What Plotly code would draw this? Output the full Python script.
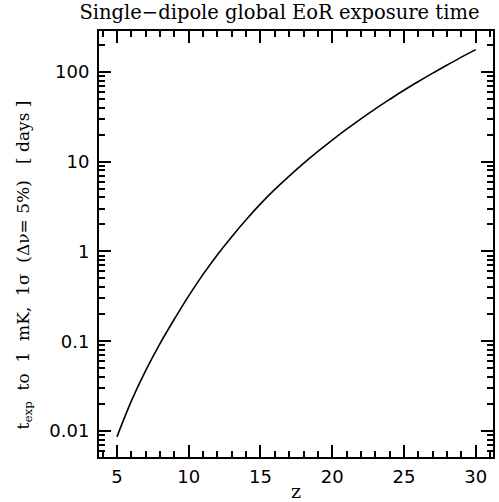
import plotly.graph_objects as go

# redshift samples and exposure time (days)
z_vals = [5, 6, 7, 8, 9, 10, 11, 12, 13, 14, 15, 16, 17, 18, 19, 20,
          21, 22, 23, 24, 25, 26, 27, 28, 29, 30]
t_exp_days = [0.0086, 0.0215, 0.047, 0.094, 0.176, 0.32, 0.555, 0.92, 1.46, 2.25,
              3.38, 4.9, 6.9, 9.55, 13.0, 17.4, 23.0, 30.0, 38.7, 49.3,
              62.4, 78.0, 96.8, 119.0, 146.0, 177.0]

x_ticks = [5, 10, 15, 20, 25, 30]
y_ticks = [0.01, 0.1, 1, 10, 100]

title_text = "Single\u2212dipole global EoR exposure time"
x_title = "z"
y_title = "t<sub>exp</sub>  to  1  mK,  1\u03c3  (\u0394\u03bd= 5%)   [ days ]"

fig = go.Figure()
fig.add_trace(go.Scatter(x=z_vals, y=t_exp_days, mode="lines",
                         line=dict(color="black", width=1.6, shape="spline"),
                         showlegend=False, hoverinfo="skip"))

tickfont = dict(family="DejaVu Sans, sans-serif", size=18, color="black")

fig.update_layout(
    width=499, height=502,
    margin=dict(l=99, r=6, t=31, b=45, autoexpand=False),
    paper_bgcolor="white", plot_bgcolor="white",
    title=dict(text=title_text, x=0.56, xanchor="center", y=0.975, yanchor="middle",
               font=dict(family="DejaVu Serif, serif", size=19.5, color="black")),
    showlegend=False,
)

fig.update_xaxes(
    range=[3.75, 31.2], tickmode="linear", tick0=x_ticks[0], dtick=x_ticks[1] - x_ticks[0],
    ticks="inside", ticklen=12, tickwidth=2,
    tickcolor="black", showline=True, linecolor="black", linewidth=2, mirror="ticks",
    showgrid=False, zeroline=False, tickfont=tickfont, automargin=False,
    ticklabelstandoff=2,
    minor=dict(ticks="inside", ticklen=6, tickwidth=1.5, tickcolor="black", dtick=1, showgrid=False),
    title=dict(text=x_title, standoff=0, font=dict(family="DejaVu Serif, serif", size=19, color="black")),
)

fig.update_yaxes(
    type="log", range=[-2.29, 2.455], tickmode="linear", dtick=1,
    ticks="inside", ticklen=12, tickwidth=2, tickcolor="black",
    showline=True, linecolor="black", linewidth=2, mirror="ticks",
    showgrid=False, zeroline=False, tickfont=tickfont, automargin=False,
    ticklabelstandoff=4,
    minor=dict(ticks="inside", ticklen=6, tickwidth=1.5, tickcolor="black", dtick="D1", showgrid=False),
)

fig.add_annotation(text=y_title, xref="paper", yref="paper", x=-0.19, y=0.45,
                   textangle=-90, showarrow=False, xanchor="center", yanchor="middle",
                   font=dict(family="DejaVu Serif, serif", size=17, color="black"))

fig.write_html("out.html")
